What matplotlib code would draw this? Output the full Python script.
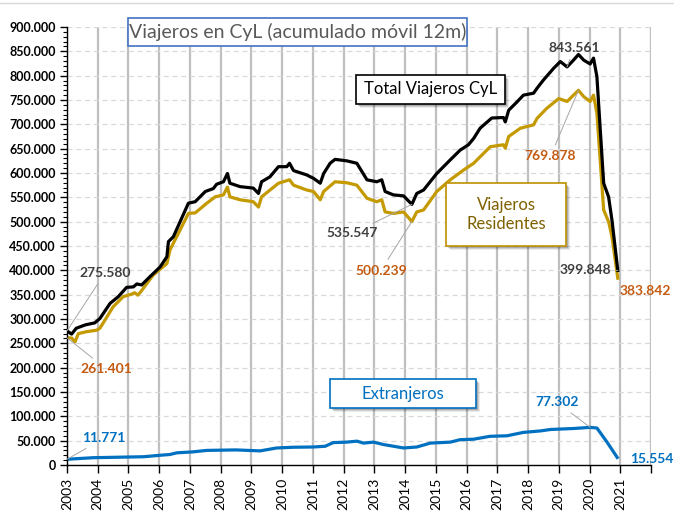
import matplotlib
matplotlib.use("Agg")
import matplotlib.pyplot as plt
from matplotlib.patches import Rectangle
from matplotlib.lines import Line2D
import numpy as np

plt.rcParams['font.family'] = ['Lato', 'DejaVu Sans']

# ---- data (decimal year, thousands of travellers) ----
total_t = [2003.00, 2003.15, 2003.30, 2003.60, 2003.90, 2004.07, 2004.40, 2004.67, 2004.94, 2005.16,
           2005.27, 2005.43, 2005.70, 2006.03, 2006.25, 2006.30, 2006.46, 2006.68, 2006.95, 2007.17,
           2007.50, 2007.76, 2007.87, 2008.09, 2008.22, 2008.30, 2008.63, 2009.06, 2009.23, 2009.33,
           2009.60, 2009.88, 2010.15, 2010.24, 2010.37, 2010.80, 2011.02, 2011.24, 2011.35, 2011.56,
           2011.72, 2012.10, 2012.43, 2012.76, 2013.08, 2013.24, 2013.35, 2013.62, 2013.95, 2014.22,
           2014.38, 2014.60, 2015.03, 2015.47, 2015.79, 2016.06, 2016.23, 2016.44, 2016.82, 2017.20,
           2017.26, 2017.37, 2017.64, 2017.85, 2018.18, 2018.29, 2018.50, 2018.83, 2019.05, 2019.27,
           2019.48, 2019.64, 2019.81, 2020.02, 2020.13, 2020.24, 2020.46, 2020.62, 2020.73, 2020.92]
total_v = [275.580, 269, 281, 288, 292, 301, 332, 346, 365, 366,
           372, 370, 387, 407, 428, 459, 469, 500, 538, 541,
           562, 568, 577, 582, 599, 579, 572, 569, 558, 582,
           592, 613, 613, 620, 605, 596, 589, 579, 599, 620,
           628, 625, 620, 586, 582, 586, 562, 555, 553, 535.547,
           558, 565, 599, 627, 647, 658, 671, 692, 713, 714,
           705, 729, 746, 760, 764, 774, 791, 815, 829, 818,
           832, 843.561, 832, 824, 836, 798, 579, 551, 503, 399.848]

res_t = [2003.00, 2003.15, 2003.26, 2003.37, 2003.64, 2003.97, 2004.07, 2004.50, 2004.83, 2005.10,
         2005.20, 2005.30, 2005.40, 2005.80, 2006.25, 2006.35, 2006.68, 2006.95, 2007.17, 2007.55,
         2007.82, 2008.09, 2008.22, 2008.30, 2008.63, 2009.06, 2009.23, 2009.33, 2009.88, 2010.24,
         2010.37, 2010.80, 2011.02, 2011.24, 2011.35, 2011.72, 2012.10, 2012.43, 2012.76, 2013.08,
         2013.24, 2013.35, 2013.62, 2013.95, 2014.22, 2014.38, 2014.60, 2015.03, 2015.47, 2015.90,
         2016.23, 2016.77, 2017.20, 2017.26, 2017.37, 2017.75, 2018.18, 2018.29, 2018.61, 2019.00,
         2019.27, 2019.48, 2019.64, 2019.81, 2020.02, 2020.13, 2020.24, 2020.46, 2020.62, 2020.73,
         2020.92]
res_v = [261.401, 261, 253, 270, 274, 277, 281, 325, 346, 351,
         354, 349, 356, 390, 414, 442, 483, 517, 518, 538,
         551, 555, 571, 551, 545, 541, 530, 551, 579, 586,
         575, 565, 562, 545, 562, 582, 580, 575, 548, 541,
         545, 520, 517, 520, 500.239, 520, 524, 562, 586, 606,
         620, 654, 658, 651, 675, 692, 699, 712, 733, 753,
         747, 760, 769.878, 757, 747, 760, 723, 524, 500, 469,
         383.842]

ext_t = [2003.00, 2003.85, 2005.50, 2006.03, 2006.35, 2006.57, 2007.10, 2007.55, 2008.50, 2009.28,
         2009.82, 2010.37, 2011.00, 2011.40, 2011.66, 2012.10, 2012.43, 2012.65, 2012.97, 2013.30,
         2013.95, 2014.38, 2014.82, 2015.47, 2015.79, 2016.23, 2016.77, 2017.31, 2017.85, 2018.40,
         2018.73, 2019.48, 2020.02, 2020.24, 2020.57, 2020.90]
ext_v = [11.771, 15, 17, 20, 21.6, 25, 27, 30, 31, 29,
         35, 36.5, 37, 38.5, 46, 47, 49, 45, 47, 42,
         35, 37, 45, 47, 52, 53, 59, 60, 67, 70,
         73, 75, 77.302, 76, 47, 15.554]

year_ticks = list(range(2003, 2023))
year_labels = [str(y) for y in range(2003, 2022)] + ['']

# ---- colours ----
C_TOT = '#000000'
C_RES = '#C49A00'
C_EXT = '#0070C0'
C_ORG = '#C55A11'
C_GRY = '#404040'

W, H = 674, 514
fig = plt.figure(figsize=(W / 100, H / 100), dpi=100)
ax = fig.add_axes([67 / W, 1 - 465 / H, (651 - 67) / W, (465 - 27) / H])

to_abs = lambda v: np.array(v) * 1000
ax.plot(total_t, to_abs(total_v), color=C_TOT, lw=2.3, zorder=4, solid_joinstyle='round')
ax.plot(res_t, to_abs(res_v), color=C_RES, lw=2.3, zorder=3, solid_joinstyle='round')
ax.plot(ext_t, to_abs(ext_v), color=C_EXT, lw=2.3, zorder=3, solid_joinstyle='round')

ax.set_xlim(2003, 2022)
ax.set_ylim(0, 900000)
ax.set_xticks(year_ticks)
ax.set_xticklabels(year_labels, rotation=90, fontsize=10, color='#000000')
yt = np.arange(0, 900001, 50000)
ax.set_yticks(yt)
ax.set_yticklabels(['0' if v == 0 else f"{v // 1000}.000" for v in yt],
                   fontsize=9, fontweight='bold', color='#000000')
ax.set_yticks(np.arange(0, 900001, 10000), minor=True)
ax.tick_params(axis='y', which='major', direction='out', length=5, width=1, pad=3)
ax.tick_params(axis='y', which='minor', direction='out', length=3, width=0.8)
ax.tick_params(axis='x', which='major', direction='out', length=6, width=1, pad=3)
for s in ['top', 'right']:
    ax.spines[s].set_visible(False)
for s in ['left', 'bottom']:
    ax.spines[s].set_color('#000000')
    ax.spines[s].set_linewidth(1)
    ax.spines[s].set_zorder(5)

ax.grid(axis='x', color='#BFBFBF', lw=1.6, ls='-', zorder=0)
ax.grid(axis='y', color='#D9D9D9', lw=0.9, ls=(0, (4, 3)), zorder=0)
ax.set_axisbelow(True)

# ---- data labels ----
def lab(t, v, txt, dx, dy, color, ha='center', leader=True):
    ax.annotate(txt, xy=(t, v * 1000), xytext=(dx, dy), textcoords='offset pixels',
                ha=ha, va='center', fontsize=10, fontweight='bold', color=color, zorder=6,
                arrowprops=dict(arrowstyle='-', color='#A6A6A6', lw=0.7,
                                shrinkA=2, shrinkB=0) if leader else None)

lab(total_t[-11], total_v[-11], '843.561', 7, 19, C_GRY)
lab(total_t[0], total_v[0], '275.580', 38, 58, C_GRY)
lab(res_t[0], res_v[0], '261.401', 39, -31, C_ORG)
lab(ext_t[0], ext_v[0], '11.771', 37, 21, C_EXT)
lab(total_t[49], total_v[49], '535.547', -34, -29, C_GRY, ha='right')
lab(res_t[44], res_v[44], '500.239', -31, -49, C_ORG)
lab(res_t[-9], res_v[-9], '769.878', -28, -66, C_ORG)
lab(total_t[-1], total_v[-1], '399.848', -7, 0, C_GRY, ha='right')
lab(res_t[-1], res_v[-1], '383.842', 2, -13, C_ORG, ha='left', leader=False)
lab(ext_t[-4], ext_v[-4], '77.302', -33, 25, C_EXT)
lab(ext_t[-1], ext_v[-1], '15.554', 13, -2, C_EXT, ha='left', leader=False)

# ---- text boxes (figure pixel coordinates, origin top-left) ----
def box(x0, y0, x1, y1, edge, txt, tcolor, fs, shadow=True, lw=1.2):
    fx0, fy0 = x0 / W, 1 - y1 / H
    fw, fh = (x1 - x0) / W, (y1 - y0) / H
    if shadow:
        for k, a in [(4, 0.08), (3, 0.12), (2, 0.16)]:
            fig.add_artist(Rectangle((fx0 + k / W, fy0 - k / H), fw, fh, transform=fig.transFigure,
                                     facecolor='#000000', edgecolor='none', alpha=a, zorder=8))
    fig.add_artist(Rectangle((fx0, fy0), fw, fh, transform=fig.transFigure,
                             facecolor='white', edgecolor=edge, lw=lw, zorder=9))
    fig.text(fx0 + fw / 2, fy0 + fh / 2, txt, ha='center', va='center', fontsize=fs,
             color=tcolor, zorder=10, linespacing=1.25)

box(128, 18, 467, 46, '#4472C4', 'Viajeros en CyL (acumulado móvil 12m)', '#595959', 14, shadow=False)
box(356, 75, 505, 104, '#000000', 'Total Viajeros CyL', '#000000', 12)
box(446, 183, 566, 246, '#BF9000', 'Viajeros\nResidentes', '#7F6000', 12)
box(330, 379, 476, 408, '#0070C0', 'Extranjeros', '#0070C0', 12)

# chart top border
fig.add_artist(Line2D([0, 1], [1 - 3 / H, 1 - 3 / H], transform=fig.transFigure,
                      color='#D9D9D9', lw=1))

fig.savefig('out.png', dpi=100)
